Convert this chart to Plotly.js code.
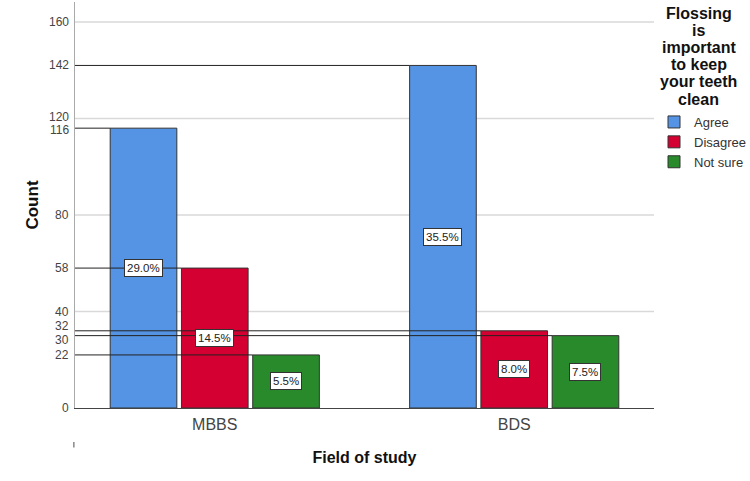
<!DOCTYPE html>
<html>
<head>
<meta charset="utf-8">
<script src="https://cdn.plot.ly/plotly-3.0.1.min.js"></script>
<style>html,body{margin:0;padding:0;background:#fff;}#chart{width:750px;height:481px;}</style>
</head>
<body>
<div id="chart"></div>
<script>
var categories = ['MBBS', 'BDS'];
var seriesNames = ['Agree', 'Disagree', 'Not sure'];
var agree = [116, 142];
var disagree = [58, 32];
var notSure = [22, 30];
var yTickVals = [0, 22, 30, 32, 40, 58, 80, 116, 120, 142, 160];
var gridVals = [40, 80, 120, 160];
var legendTitleLines = ['Flossing', 'is', 'important', 'to keep', 'your teeth', 'clean'];
var colors = ['#5594e4', '#d50032', '#298a2b'];

var series = [agree, disagree, notSure];
var FONT = 'Liberation Sans, Arial, sans-serif';
var W = 750, H = 481, M = { l: 75, r: 93, t: 2, b: 73 };
var plotH = H - M.t - M.b;
var xpos = categories.map(function (c, i) { return i; });
var bargap = 0.286, bargroupgap = 0.065;
var xRange = [-0.4668, 1.4668];
var yRange = [0, 168.3];

var total = 0;
series.forEach(function (s) { s.forEach(function (v) { total += v; }); });

var traces = series.map(function (s, k) {
  return {
    type: 'bar', name: seriesNames[k], x: xpos, y: s,
    marker: { color: colors[k], line: { color: '#333', width: 1 } },
    hoverinfo: 'none'
  };
});

var groupW = 1 - bargap;
var slot = groupW / series.length;
var barW = slot * (1 - bargroupgap);
function barLeft(ci, k) { return xpos[ci] - groupW / 2 + k * slot + slot * bargroupgap / 2; }

var shapes = [];
gridVals.forEach(function (g) {
  shapes.push({ type: 'line', layer: 'below', xref: 'x', yref: 'y', x0: xRange[0], x1: xRange[1], y0: g, y1: g,
    line: { color: '#d9d9d9', width: 1.5 } });
});
var annotations = [];
series.forEach(function (s, k) {
  s.forEach(function (v, ci) {
    var left = barLeft(ci, k);
    shapes.push({ type: 'line', layer: 'above', xref: 'x', yref: 'y', x0: xRange[0], x1: left, y0: v, y1: v,
      line: { color: '#222', width: 1 } });
    annotations.push({ xref: 'x', yref: 'y', x: left + barW / 2, y: v / 2, showarrow: false,
      text: (v / total * 100).toFixed(1) + '%', font: { family: FONT, size: 11.5, color: '#222' },
      bgcolor: '#fff', bordercolor: '#333', borderwidth: 1, borderpad: 2 });
  });
});

// y tick labels: placed at their values, nudged apart where they would collide
var pxPerUnit = plotH / (yRange[1] - yRange[0]);
var pos = yTickVals.map(function (v) { return { v: v, p: v * pxPerUnit }; });
pos.sort(function (a, b) { return a.p - b.p; });
var minGap = 13.5;
for (var it = 0; it < 50; it++) {
  for (var i = 1; i < pos.length; i++) {
    var gap = pos[i].p - pos[i - 1].p;
    if (gap < minGap) { var d = (minGap - gap) / 2; pos[i].p += d; pos[i - 1].p -= d; }
  }
  if (pos[0].p < 0) pos[0].p = 0;
}
pos.forEach(function (o) {
  annotations.push({ xref: 'paper', yref: 'y', x: 0, y: o.v, xanchor: 'right', yanchor: 'middle',
    xshift: -4, yshift: (o.p - o.v * pxPerUnit), showarrow: false, text: String(o.v),
    font: { family: FONT, size: 12, color: '#444' } });
});

// small mark below axis
shapes.push({ type: 'line', xref: 'paper', yref: 'paper', x0: -0.002, x1: -0.002, y0: -0.084, y1: -0.097,
  line: { color: '#888', width: 1.5 } });

legendTitleLines.forEach(function (t, i) {
  annotations.push({ xref: 'paper', yref: 'paper', x: 1.0773, y: 1, yanchor: 'middle', xanchor: 'center',
    yshift: -(11 + i * 17.2), showarrow: false, text: '<b>' + t + '</b>',
    font: { family: FONT, size: 16, color: '#111' } });
});

var layout = {
  width: W, height: H,
  margin: M,
  paper_bgcolor: '#fff', plot_bgcolor: '#fff',
  barmode: 'group', bargap: bargap, bargroupgap: bargroupgap,
  font: { family: FONT },
  xaxis: {
    range: xRange, tickvals: xpos, ticktext: categories, showgrid: false, zeroline: false,
    showline: true, linecolor: '#444', linewidth: 1, ticks: '', ticklabelstandoff: 2,
    tickfont: { family: FONT, size: 16, color: '#444' },
    title: { text: '<b>Field of study</b>', font: { family: FONT, size: 16, color: '#111' }, standoff: 19 }
  },
  yaxis: {
    range: yRange, tickvals: yTickVals, showticklabels: false, showgrid: false, zeroline: false,
    showline: true, linecolor: '#aaa', linewidth: 1.5, ticks: '',
    title: { text: '<b>Count</b>', font: { family: FONT, size: 17, color: '#111' }, standoff: 30 }
  },
  showlegend: true,
  legend: { xref: 'container', x: 654 / W, xanchor: 'left', yref: 'container', y: 1 - 107 / H, yanchor: 'top',
    font: { family: FONT, size: 13, color: '#333' },
    bgcolor: 'rgba(0,0,0,0)', itemwidth: 30, tracegroupgap: 0 },
  shapes: shapes,
  annotations: annotations
};

Plotly.newPlot('chart', traces, layout, { staticPlot: true, displayModeBar: false });
</script>
</body>
</html>
